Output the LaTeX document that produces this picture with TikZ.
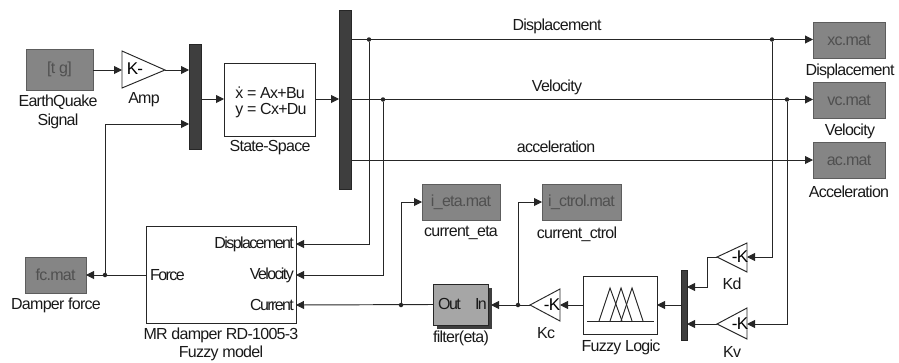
\documentclass[tikz,border=0pt]{standalone}
\usepackage{fontspec}
\setmainfont[LetterSpace=-4.5]{Liberation Sans}
\newfontfamily\tightf[LetterSpace=-10]{Liberation Sans}
\usetikzlibrary{arrows.meta}
\definecolor{ink}{HTML}{262626}
\definecolor{matfill}{HTML}{858585}
\definecolor{mattext}{HTML}{505050}
\definecolor{muxfill}{HTML}{3E3E3E}
\definecolor{filtfill}{HTML}{A6A6A6}
\tikzset{
  x=1pt,y=-1pt,
  wire/.style={draw=ink,line width=0.95pt},
  arrowwire/.style={wire,-{Triangle[length=8pt,width=8pt]}},
  junction/.style={circle,fill=ink,inner sep=0pt,minimum size=4.5pt},
  matblock/.style={draw=matfill!70!black,fill=matfill,text=mattext,inner sep=0pt,outer sep=0pt,font=\fontsize{16}{15}\selectfont},
  muxbar/.style={draw=ink,fill=muxfill,inner sep=0pt,outer sep=0pt},
  whitebox/.style={draw=ink,line width=0.95pt,fill=white,inner sep=0pt,outer sep=0pt},
  lbl/.style={text=black!90,inner sep=0pt,align=center,font=\fontsize{16}{18.5}\selectfont},
  portlbl/.style={text=black!90,inner sep=0pt,font=\fontsize{16}{16}\selectfont\tightf},
  gainlbl/.style={text=black,inner sep=0pt,font=\fontsize{17}{17}\selectfont},
  gain/.style={draw=ink,line width=0.95pt,fill=white,line join=miter},
  fuzzy/.style={draw=ink,line width=0.95pt},
}
\begin{document}
\begin{tikzpicture}
\useasboundingbox (0,0) rectangle (899,362);
% blocks
\node[matblock,minimum width=67pt,minimum height=41pt] (sig) at (59.5,69.5) {[t g]};
\node[muxbar,minimum width=12pt,minimum height=105pt] (mux1) at (195,96.5) {};
\node[whitebox,minimum width=91pt,minimum height=73pt] (ss) at (269.5,99.5) {};
\node[inner sep=0pt,align=left,text=black!90,font=\fontsize{16}{15.5}\selectfont] (sstext) at (271,102.5) {\.{x} = Ax+Bu\\y = Cx+Du};
\node[muxbar,minimum width=12pt,minimum height=179pt] (mux2) at (345,99.5) {};
\node[matblock,minimum width=72pt,minimum height=36pt] (xc) at (849,40) {xc.mat};
\node[matblock,minimum width=72pt,minimum height=36pt] (vc) at (849,100) {vc.mat};
\node[matblock,minimum width=72pt,minimum height=36pt] (ac) at (849,160) {ac.mat};
\node[whitebox,minimum width=150pt,minimum height=97pt] (mr) at (221,274.5) {};
\node[matblock,minimum width=61pt,minimum height=36pt] (fc) at (55.5,275) {fc.mat};
\node[matblock,minimum width=78pt,minimum height=36pt] (ieta) at (461,202) {i\_eta.mat};
\node[matblock,minimum width=79pt,minimum height=36pt] (ictrl) at (581.5,202) {i\_ctrol.mat};
\fill[muxfill] (437,288) rectangle (492,329);
\node[draw=ink,fill=filtfill,inner sep=0pt,outer sep=0pt,minimum width=55pt,minimum height=41pt] (filt) at (460.5,304.5) {};
\node[whitebox,minimum width=74pt,minimum height=58pt] (fl) at (620,305) {};
\node[muxbar,minimum width=6pt,minimum height=70pt] (mux3) at (684,305) {};
% gains
\draw[gain] (122,51) -- (122,88) -- (165,70) -- cycle;
\draw[gain] (747,243) -- (747,272) -- (717,257) -- cycle;
\draw[gain] (747,308) -- (747,339) -- (717,324) -- cycle;
\draw[gain] (560,289) -- (560,321) -- (530,305) -- cycle;
% fuzzy icon
\draw[fuzzy] (587,321) -- (654,321);
\draw[fuzzy] (599,321) -- (610,288) -- (622,321);
\draw[fuzzy] (610,321) -- (621,288) -- (632,321);
\draw[fuzzy] (621,321) -- (632,288) -- (643,321);
% port coordinates
\coordinate (ampin) at (122,70);
\coordinate (ampout) at (165,70);
\coordinate (mux1a) at (189,70);
\coordinate (mux1b) at (189,124);
\coordinate (mux1o) at (201,99);
\coordinate (ssin) at (224,99);
\coordinate (ssout) at (315,99);
\coordinate (mux2i) at (339,99);
\coordinate (mux2a) at (351,39.5);
\coordinate (mux2b) at (351,99.5);
\coordinate (mux2c) at (351,160);
\node[junction] (j1) at (369,39.5) {};
\node[junction] (j2) at (383,99.5) {};
\node[junction] (j3) at (772,39.5) {};
\node[junction] (j4) at (787,99.5) {};
\node[junction] (j5) at (105,275) {};
\node[junction] (j6) at (401,305) {};
\node[junction] (j7) at (518,305) {};
\coordinate (mrd) at (296,244);
\coordinate (mrv) at (296,275);
\coordinate (mrc) at (296,305);
\coordinate (mrf) at (146,275);
\coordinate (kdin) at (747,257);
\coordinate (kdout) at (717,257);
\coordinate (kvin) at (747,324);
\coordinate (kvout) at (717,324);
\coordinate (kcin) at (560,305);
\coordinate (kcout) at (530,305);
\coordinate (mux3a) at (687,287);
\coordinate (mux3b) at (687,324);
\coordinate (mux3o) at (681,305);
\coordinate (fin) at (491,305);
% connectors
\draw[arrowwire] (sig.east |- ampin) -- (ampin);
\draw[arrowwire] (ampout) -- (mux1a);
\draw[arrowwire] (mux1o) -- (ssin);
\draw[arrowwire] (ssout) -- (mux2i);
\draw[arrowwire] (mux2a) -- (xc.west |- mux2a);
\draw[arrowwire] (mux2b) -- (vc.west |- mux2b);
\draw[arrowwire] (mux2c) -- (ac.west |- mux2c);
\draw[arrowwire] (j1) |- (mrd);
\draw[arrowwire] (j2) |- (mrv);
\draw[arrowwire] (j3) |- (kdin);
\draw[arrowwire] (j4) |- (kvin);
\draw[arrowwire] (mrf) -- (fc.east |- mrf);
\draw[arrowwire] (j5) |- (mux1b);
\draw[arrowwire] (filt.west) -- (mrc);
\draw[arrowwire] (j6) |- (ieta.west);
\draw[arrowwire] (j7) |- (ictrl.west);
\draw[arrowwire] (kcout) -- (fin);
\draw[arrowwire] (fl.east -| mux3o) -- (fl.east);
\draw[arrowwire] (fl.west) -- (kcin);
\draw[arrowwire] (kdout) -- ++(-10,0) |- (mux3a);
\draw[arrowwire] (kvout) -- (mux3b);
% gain texts
\node[gainlbl] (tamp) at (135,69) {K-};
\node[gainlbl] (tkd) at (740,257) {-K};
\node[gainlbl] (tkv) at (740,324) {-K};
\node[gainlbl] (tkc) at (552,305) {-K};
% filter port texts
\node[portlbl,anchor=west] (tout) at (438,304) {Out};
\node[portlbl,anchor=east] (tin) at (487,304) {In};
% MR ports
\node[portlbl,anchor=east] (pd) at (294,244) {Displacement};
\node[portlbl,anchor=east] (pv) at (294,275) {Velocity};
\node[portlbl,anchor=east] (pc) at (294,305) {Current};
\node[portlbl,anchor=west] (pf) at (150,275) {Force};
% labels
\node[lbl] (l1) at (58,112) {EarthQuake\\Signal};
\node[lbl] (l2) at (144,100) {Amp};
\node[lbl] (l3) at (270,148) {State-Space};
\node[lbl] (l4) at (557,26) {Displacement};
\node[lbl] (l5) at (557,87) {Velocity};
\node[lbl] (l6) at (556,147) {acceleration};
\node[lbl] (l7) at (850,71) {Displacement};
\node[lbl] (l8) at (850,131) {Velocity};
\node[lbl] (l9) at (849,192) {Acceleration};
\node[lbl] (l10) at (56,305) {Damper force};
\node[lbl] (l11) at (221,344.5) {MR damper RD-1005-3\\Fuzzy model};
\node[lbl] (l12) at (461,233) {current\_eta};
\node[lbl] (l13) at (577,234) {current\_ctrol};
\node[lbl] (l14) at (461,338) {filter(eta)};
\node[lbl] (l15) at (546,333) {Kc};
\node[lbl] (l16) at (621,347) {Fuzzy Logic};
\node[lbl] (l17) at (732,284) {Kd};
\node[lbl] (l18) at (732,352) {Kv};
\end{tikzpicture}
\end{document}
